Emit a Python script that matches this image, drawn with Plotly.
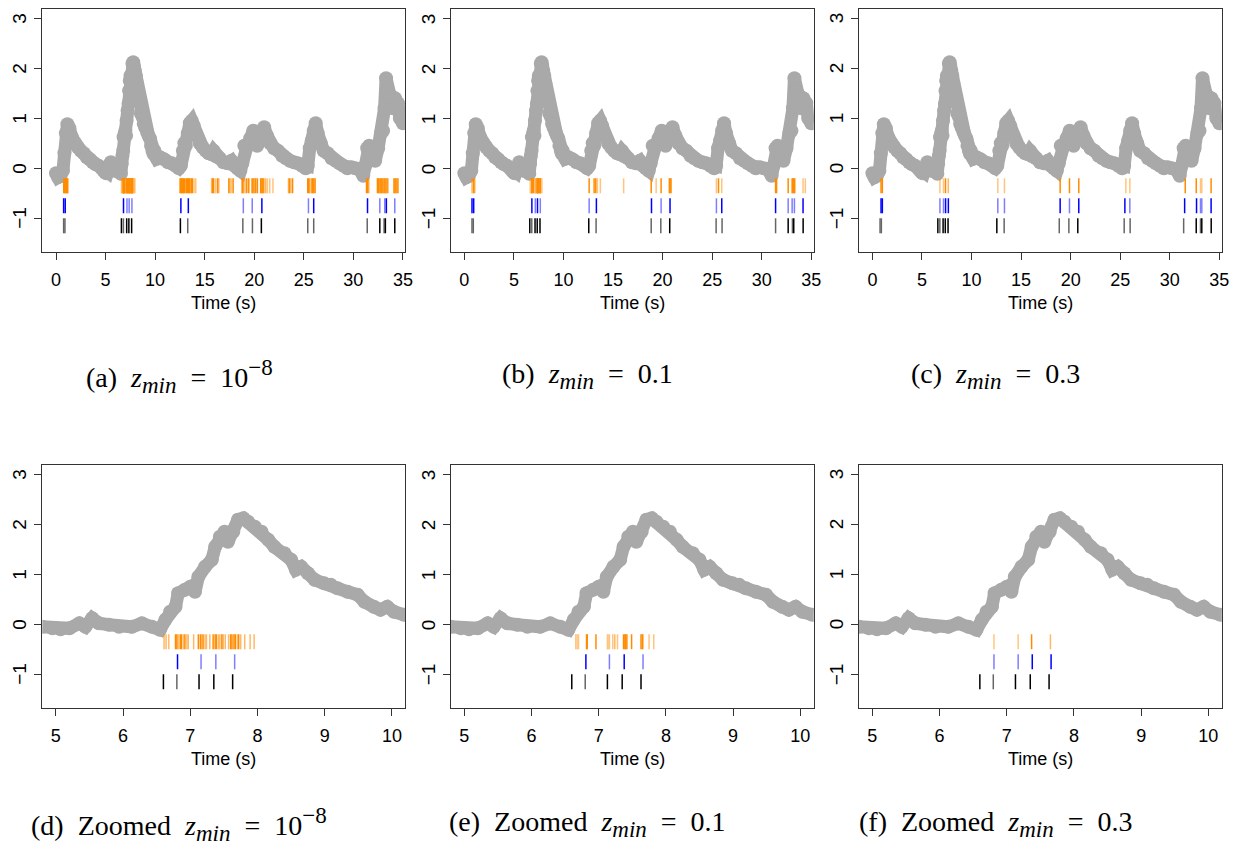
import plotly.graph_objects as go

# ---------------- data ----------------
# fluorescence trace, early part (s, a.u.)
t_early = [0.0, 0.2, 0.45, 0.7, 0.85, 1.0, 1.15, 1.35, 1.6, 1.9, 2.2, 2.5, 2.8, 3.1, 3.4, 3.7, 4.0, 4.3, 4.6]
f_early = [-0.1, -0.18, -0.15, -0.05, 0.3, 0.7, 0.88, 0.8, 0.62, 0.5, 0.42, 0.35, 0.3, 0.22, 0.18, 0.12, 0.08, 0.05, 0.0]

# fluorescence trace, zoom window 4.8 - 10.2 s
t_zoom = [4.80, 4.95, 5.07, 5.2, 5.35, 5.44, 5.54, 5.64, 5.79, 5.94, 6.13, 6.28, 6.43, 6.55, 6.63, 6.70,
          6.78, 6.82, 6.92, 7.0, 7.07, 7.12, 7.22, 7.32, 7.37, 7.44, 7.51, 7.56, 7.64, 7.71, 7.79, 7.86,
          7.96, 8.06, 8.16, 8.25, 8.40, 8.50, 8.57, 8.65, 8.75, 8.85, 8.99, 9.09, 9.19, 9.34, 9.49, 9.59,
          9.73, 9.83, 9.93, 10.03, 10.18]
f_zoom = [-0.05, -0.08, -0.1, -0.08, 0.02, -0.05, 0.12, 0.02, -0.01, -0.05, -0.05, 0.02, -0.05, -0.11, 0.09, 0.25,
          0.35, 0.62, 0.69, 0.75, 0.65, 0.95, 1.15, 1.29, 1.55, 1.75, 1.85, 1.65, 1.85, 2.09, 2.12, 2.05,
          1.95, 1.85, 1.69, 1.55, 1.42, 1.29, 1.09, 1.15, 1.02, 0.89, 0.82, 0.79, 0.72, 0.65, 0.59, 0.45,
          0.35, 0.29, 0.35, 0.25, 0.19]

# fluorescence trace, late part
t_late = [10.5, 10.9, 11.3, 11.7, 12.1, 12.4, 12.6, 12.8, 12.95, 13.1, 13.3, 13.5, 13.7, 13.9, 14.2, 14.5,
          14.8, 15.1, 15.4, 15.7, 15.9, 16.2, 16.5, 16.9, 17.3, 17.7, 18.0, 18.3, 18.6, 18.8, 19.0, 19.3,
          19.6, 19.9, 20.1, 20.3, 20.5, 20.8, 21.0, 21.3, 21.6, 22.0, 22.4, 22.8, 23.2, 23.6, 24.0, 24.4,
          24.8, 25.2, 25.4, 25.6, 25.8, 26.0, 26.2, 26.4, 26.7, 27.0, 27.4, 27.8, 28.2, 28.6, 29.0, 29.4,
          29.8, 30.2, 30.6, 31.0, 31.2, 31.4, 31.6, 31.9, 32.2, 32.5, 32.8, 33.0, 33.15, 33.3, 33.5, 33.8,
          34.0, 34.2, 34.5, 34.7, 35.0]
f_late = [0.22, 0.18, 0.12, 0.1, 0.05, 0.0, 0.05, 0.35, 0.5, 0.45, 0.7, 0.9, 0.95, 0.85, 0.65, 0.5,
          0.42, 0.35, 0.3, 0.28, 0.35, 0.25, 0.2, 0.12, 0.1, 0.15, 0.05, 0.0, -0.05, 0.1, 0.45, 0.45,
          0.6, 0.75, 0.55, 0.45, 0.55, 0.75, 0.82, 0.65, 0.5, 0.4, 0.35, 0.25, 0.2, 0.15, 0.12, 0.1,
          0.05, 0.0, 0.05, 0.4, 0.55, 0.75, 0.9, 0.7, 0.5, 0.35, 0.3, 0.2, 0.15, 0.1, 0.05, 0.0,
          0.02, 0.0, -0.02, -0.15, 0.05, 0.4, 0.45, 0.3, 0.15, 0.4, 0.7, 0.75, 1.2, 1.8, 1.55, 1.45,
          1.2, 1.4, 1.3, 1.0, 0.9]

# true spikes (black), shared by all panels
true_t = [0.77, 0.9, 6.60, 6.80, 7.13, 7.35, 7.63, 12.55, 13.29, 18.85, 19.82, 20.72, 25.4, 26.0,
          31.4, 32.67, 33.1, 33.23, 34.18]
true_w = [0.6, 0.6, 1, 0.6, 1, 1, 1, 1, 0.6, 0.6, 0.6, 1, 0.6, 0.6, 0.6, 1, 0.6, 1, 1]

# estimated spikes (orange) and thresholded spikes (blue); "_out" = outside 4.8-10.2 s
orange_a_out = [0.78, 0.85, 0.92, 1.0, 1.08, 1.15, 1.2,
                12.52, 12.6, 12.68, 12.76, 12.85, 12.95, 13.05, 13.15, 13.26, 13.36, 13.45, 13.55, 13.65, 13.76, 13.93, 14.1,
                15.7, 15.8, 15.9, 16.1, 16.3, 16.43, 17.44, 17.55, 17.7, 17.87,
                18.78, 18.85, 18.95, 19.1, 19.25, 19.45, 19.78, 19.88, 19.98, 20.1, 20.2, 20.32,
                20.65, 20.72, 20.8, 20.9, 21.0, 21.15, 21.32, 21.56, 21.89,
                23.46, 23.55, 23.7, 23.87, 25.4, 25.5, 25.6, 25.75, 25.85, 25.95, 26.05, 26.14,
                31.33, 31.45, 31.56, 32.43, 32.52, 32.6, 32.7, 32.8, 32.9, 33.0, 33.1, 33.2, 33.3, 33.4, 33.5,
                34.1, 34.2, 34.3, 34.4, 34.5]
orange_a_out_w = [1, 1, 1, 1, 1, 1, 0.6,
                  1, 1, 1, 1, 1, 1, 0.6, 1, 1, 1, 1, 0.6, 1, 1, 0.5, 0.5,
                  0.6, 1, 1, 0.5, 1, 0.6, 1, 0.6, 0.5, 1,
                  1, 1, 0.6, 0.5, 1, 1, 1, 1, 0.6, 1, 0.5, 1,
                  1, 0.6, 1, 1, 0.5, 0.6, 0.5, 0.5, 0.5,
                  0.6, 1, 0.6, 1, 1, 1, 0.6, 0.6, 1, 1, 0.6, 1,
                  1, 1, 0.6, 1, 1, 0.6, 1, 1, 1, 0.6, 1, 1, 0.6, 1, 0.6,
                  1, 1, 1, 0.6, 1]
orange_d = [6.61, 6.64, 6.68, 6.78, 6.80, 6.82, 6.85, 6.87, 6.90, 6.92, 6.95, 6.97, 7.05, 7.12, 7.15, 7.17,
            7.19, 7.22, 7.24, 7.29, 7.34, 7.37, 7.39, 7.42, 7.44, 7.47, 7.49, 7.52, 7.57, 7.60, 7.62, 7.65,
            7.67, 7.70, 7.72, 7.75, 7.81, 7.89, 7.95]
orange_d_w = [0.6, 0.6, 0.6, 1, 1, 0.6, 1, 1, 0.6, 1, 0.6, 0.6, 0.6, 1, 1, 0.6,
              1, 0.6, 0.6, 0.6, 1, 1, 1, 0.6, 0.6, 1, 0.6, 0.6, 0.6, 1, 1, 1,
              1, 0.6, 1, 0.6, 0.6, 0.6, 0.6]
blue_a_out = [0.77, 0.93, 12.6, 13.35, 18.9, 19.8, 20.77, 25.47, 26.0, 31.43, 32.67, 33.17, 33.33, 34.18]
blue_a_out_w = [1, 1, 1, 1, 0.5, 0.5, 1, 0.5, 1, 1, 0.5, 0.5, 1, 0.5]
blue_d = [6.81, 7.16, 7.38, 7.66]
blue_d_w = [1, 0.5, 0.5, 0.5]

orange_b_out = [0.77, 0.85, 0.95, 1.05, 12.59, 13.09, 13.26, 13.42, 13.72, 16.07, 18.85, 19.35, 19.85,
                20.68, 20.75, 20.85, 25.43, 25.64, 25.97, 31.4, 31.5, 32.67, 33.07, 33.15, 33.23, 33.33,
                34.17, 34.4]
orange_b_out_w = [0.6, 0.6, 1, 0.6, 1, 1, 1, 0.5, 0.5, 0.5, 1, 0.5, 1,
                  1, 1, 1, 0.5, 1, 0.5, 1, 1, 1, 1, 1, 1, 1, 0.5, 0.5]
orange_e = [6.66, 6.68, 6.70, 6.82, 6.83, 6.96, 7.13, 7.14, 7.16, 7.21, 7.24, 7.28, 7.37, 7.39, 7.40,
            7.42, 7.49, 7.63, 7.65, 7.66, 7.75, 7.82]
orange_e_w = [0.5, 0.5, 0.5, 1, 1, 1, 0.5, 0.5, 0.5, 0.5, 0.6, 0.5, 1, 1, 1,
              1, 1, 1, 1, 0.6, 0.5, 0.5]
blue_b_out = [0.77, 0.94, 12.59, 13.32, 18.88, 19.85, 20.75, 25.43, 25.97, 31.4, 32.67, 33.07, 33.3, 34.17]
blue_b_out_w = [1, 1, 0.5, 1, 1, 0.5, 1, 0.5, 1, 1, 0.5, 0.5, 0.5, 1]
blue_e = [6.81, 7.16, 7.38, 7.66]
blue_e_w = [1, 0.5, 1, 0.5]

orange_c_out = [0.87, 1.0, 12.65, 13.32, 18.94, 19.88, 20.82, 25.57, 25.97, 31.56, 32.67, 33.1, 33.23, 34.17]
orange_c_out_w = [1, 1, 0.5, 0.5, 1, 1, 1, 0.5, 0.5, 1, 1, 0.5, 0.5, 1]
orange_f = [6.81, 7.17, 7.37, 7.65]
orange_f_w = [0.5, 0.5, 1, 0.6]
blue_c_out = [0.87, 1.0, 12.65, 13.32, 18.94, 19.88, 20.82, 25.47, 25.97, 31.5, 32.7, 33.1, 33.23, 34.17]
blue_c_out_w = [1, 1, 0.5, 0.5, 1, 0.5, 1, 1, 0.5, 1, 1, 0.5, 0.5, 1]
blue_f = [6.81, 7.17, 7.38, 7.66]
blue_f_w = [0.5, 0.5, 1, 1]

full_ticks = [0, 5, 10, 15, 20, 25, 30, 35]
zoom_ticks = [5, 6, 7, 8, 9, 10]
y_ticks = [-1, 0, 1, 2, 3]
y_tick_text = ["\u22121", "0", "1", "2", "3"]
SP = "\u2002"
ZM = '<i>z</i><sub><span style="font-size:23px"><i>min</i></span></sub>'
EXP = '10<sup><span style="font-size:23px">\u22128</span></sup>'
captions = [f"(a){SP}{ZM}{SP}={SP}{EXP}",
            f"(b){SP}{ZM}{SP}={SP}0.1",
            f"(c){SP}{ZM}{SP}={SP}0.3",
            f"(d){SP}Zoomed{SP}{ZM}{SP}={SP}{EXP}",
            f"(e){SP}Zoomed{SP}{ZM}{SP}={SP}0.1",
            f"(f){SP}Zoomed{SP}{ZM}{SP}={SP}0.3"]

# ---------------- layout geometry ----------------
W, H = 1247, 848
x_left = [42.7, 453.7, 864.4]
box_w = 365.3
y_rows = [(9.3, 252.3), (465.3, 708.3)]
ORANGE, BLUE, BLACK, GRAY = "#FF8C00", "#0000FF", "#000000", "#A9A9A9"
ROW_Y = {"orange": (-0.2, -0.5), "blue": (-0.6, -0.9), "black": (-1.0, -1.3)}

t_full = t_early + t_zoom + t_late
f_full = f_early + f_zoom + f_late

panels = [
    (t_full, f_full, orange_a_out + orange_d, orange_a_out_w + orange_d_w, blue_a_out + blue_d, blue_a_out_w + blue_d_w),
    (t_full, f_full, orange_b_out + orange_e, orange_b_out_w + orange_e_w, blue_b_out + blue_e, blue_b_out_w + blue_e_w),
    (t_full, f_full, orange_c_out + orange_f, orange_c_out_w + orange_f_w, blue_c_out + blue_f, blue_c_out_w + blue_f_w),
    (t_zoom, f_zoom, orange_d, orange_d_w, blue_d, blue_d_w),
    (t_zoom, f_zoom, orange_e, orange_e_w, blue_e, blue_e_w),
    (t_zoom, f_zoom, orange_f, orange_f_w, blue_f, blue_f_w),
]

fig = go.Figure()


def add_spikes(times, weights, rowkey, color, xa, ya):
    y0, y1 = ROW_Y[rowkey]
    for w in sorted(set(weights)):
        xs, ys = [], []
        for t, ww in zip(times, weights):
            if ww == w:
                xs += [t, t, None]
                ys += [y0, y1, None]
        fig.add_trace(go.Scatter(x=xs, y=ys, mode="lines", xaxis=xa, yaxis=ya, opacity=w,
                                 line=dict(color=color, width=1.5), hoverinfo="skip", showlegend=False))


annotations = []
for k, (tt, ff, ot, ow, bt, bw) in enumerate(panels):
    col, row = k % 3, k // 3
    xa, ya = f"x{k + 1}", f"y{k + 1}"
    fig.add_trace(go.Scatter(x=tt, y=ff, mode="lines+markers", xaxis=xa, yaxis=ya,
                             line=dict(color=GRAY, width=13), marker=dict(color=GRAY, size=14),
                             showlegend=False, hoverinfo="skip"))
    add_spikes(ot, ow, "orange", ORANGE, xa, ya)
    add_spikes(bt, bw, "blue", BLUE, xa, ya)
    add_spikes(true_t, true_w, "black", BLACK, xa, ya)

    x0 = x_left[col]
    x1 = x0 + box_w
    top, bot = y_rows[row]
    axis_common = dict(showline=True, mirror=True, linecolor="#333333", linewidth=1,
                       ticks="outside", ticklen=7, tickwidth=1, tickcolor="#333333",
                       showgrid=False, zeroline=False,
                       tickfont=dict(family="Liberation Sans", size=18, color="#000000"))
    fig.layout[f"xaxis{k + 1}"] = dict(
        domain=[x0 / W, x1 / W], anchor=ya,
        range=[-1.37, 35.25] if row == 0 else [4.8, 10.2],
        tickvals=full_ticks if row == 0 else zoom_ticks, ticklabelstandoff=4, **axis_common)
    fig.layout[f"yaxis{k + 1}"] = dict(
        domain=[1 - bot / H, 1 - top / H], anchor=xa, range=[-1.68, 3.18],
        tickvals=y_ticks, showticklabels=False, **axis_common)

    # rotated y tick labels placed on the y axis scale
    for v, txt in zip(y_ticks, y_tick_text):
        annotations.append(dict(text=txt, x=(x0 - 23) / W, y=v, xref="paper", yref=ya,
                                showarrow=False, textangle=-90, xanchor="center", yanchor="middle",
                                font=dict(family="Liberation Sans", size=19, color="#000000")))

    cx = (x0 + x1) / 2
    annotations.append(dict(text="Time (s)", x=cx / W, y=1 - (bot + 51) / H, xref="paper", yref="paper",
                            showarrow=False, xanchor="center", yanchor="middle",
                            font=dict(family="Liberation Sans", size=18, color="#000000")))
    cap_y = 376 if row == 0 else 824
    annotations.append(dict(text=captions[k], x=(180.5 + [0, 411, 821.7][col]) / W, y=1 - cap_y / H,
                            xref="paper", yref="paper", showarrow=False, xanchor="center", yanchor="middle",
                            font=dict(family="Liberation Serif", size=28, color="#000000")))

fig.update_layout(width=W, height=H, margin=dict(l=0, r=0, t=0, b=0),
                  plot_bgcolor="white", paper_bgcolor="white", annotations=annotations)

fig.write_html("out.html")
